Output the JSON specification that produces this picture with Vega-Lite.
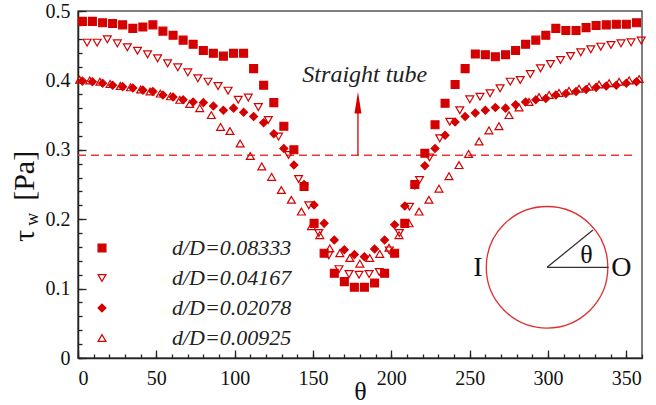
{
  "$schema": "https://vega.github.io/schema/vega-lite/v6.json",
  "width": 564,
  "height": 347,
  "autosize": "none",
  "padding": {"left": 78, "top": 11, "right": 14, "bottom": 47},
  "background": "white",
  "config": {
    "font": "Liberation Serif, Times New Roman, serif",
    "view": {"stroke": "#555", "strokeWidth": 1.5},
    "axis": {
      "grid": false,
      "labelFont": "Liberation Serif, Times New Roman, serif",
      "labelFontSize": 20,
      "labelColor": "#111",
      "titleFont": "Liberation Serif, Times New Roman, serif",
      "titleFontWeight": "normal",
      "titleColor": "#111",
      "domainColor": "#222",
      "domainWidth": 1.5,
      "tickColor": "#222",
      "tickWidth": 1.3
    },
    "legend": {"labelFont": "Liberation Serif, Times New Roman, serif"},
    "text": {"font": "Liberation Serif, Times New Roman, serif", "color": "#111"}
  },
  "datasets": {
    "curves": [
      {"series": "d/D=0.08333", "theta": 2.8, "tau": 0.485},
      {"series": "d/D=0.08333", "theta": 9.2, "tau": 0.485},
      {"series": "d/D=0.08333", "theta": 15.7, "tau": 0.483},
      {"series": "d/D=0.08333", "theta": 22.1, "tau": 0.482},
      {"series": "d/D=0.08333", "theta": 28.5, "tau": 0.48},
      {"series": "d/D=0.08333", "theta": 35.0, "tau": 0.475},
      {"series": "d/D=0.08333", "theta": 41.4, "tau": 0.477},
      {"series": "d/D=0.08333", "theta": 47.8, "tau": 0.48},
      {"series": "d/D=0.08333", "theta": 54.2, "tau": 0.471},
      {"series": "d/D=0.08333", "theta": 60.7, "tau": 0.465},
      {"series": "d/D=0.08333", "theta": 67.1, "tau": 0.458},
      {"series": "d/D=0.08333", "theta": 73.5, "tau": 0.452},
      {"series": "d/D=0.08333", "theta": 80.0, "tau": 0.443},
      {"series": "d/D=0.08333", "theta": 86.4, "tau": 0.439},
      {"series": "d/D=0.08333", "theta": 92.8, "tau": 0.435},
      {"series": "d/D=0.08333", "theta": 99.3, "tau": 0.439},
      {"series": "d/D=0.08333", "theta": 105.7, "tau": 0.439},
      {"series": "d/D=0.08333", "theta": 112.1, "tau": 0.417},
      {"series": "d/D=0.08333", "theta": 118.5, "tau": 0.393},
      {"series": "d/D=0.08333", "theta": 125.0, "tau": 0.368},
      {"series": "d/D=0.08333", "theta": 131.4, "tau": 0.334},
      {"series": "d/D=0.08333", "theta": 137.8, "tau": 0.3},
      {"series": "d/D=0.08333", "theta": 144.3, "tau": 0.247},
      {"series": "d/D=0.08333", "theta": 150.7, "tau": 0.194},
      {"series": "d/D=0.08333", "theta": 157.1, "tau": 0.151},
      {"series": "d/D=0.08333", "theta": 163.6, "tau": 0.122},
      {"series": "d/D=0.08333", "theta": 170.0, "tau": 0.11},
      {"series": "d/D=0.08333", "theta": 176.4, "tau": 0.102},
      {"series": "d/D=0.08333", "theta": 182.8, "tau": 0.102},
      {"series": "d/D=0.08333", "theta": 189.3, "tau": 0.108},
      {"series": "d/D=0.08333", "theta": 195.7, "tau": 0.122},
      {"series": "d/D=0.08333", "theta": 202.1, "tau": 0.151},
      {"series": "d/D=0.08333", "theta": 208.6, "tau": 0.194},
      {"series": "d/D=0.08333", "theta": 215.0, "tau": 0.25},
      {"series": "d/D=0.08333", "theta": 221.4, "tau": 0.295},
      {"series": "d/D=0.08333", "theta": 227.9, "tau": 0.336},
      {"series": "d/D=0.08333", "theta": 234.3, "tau": 0.367},
      {"series": "d/D=0.08333", "theta": 240.7, "tau": 0.394},
      {"series": "d/D=0.08333", "theta": 247.1, "tau": 0.417},
      {"series": "d/D=0.08333", "theta": 253.6, "tau": 0.438},
      {"series": "d/D=0.08333", "theta": 260.0, "tau": 0.437},
      {"series": "d/D=0.08333", "theta": 266.4, "tau": 0.434},
      {"series": "d/D=0.08333", "theta": 272.9, "tau": 0.437},
      {"series": "d/D=0.08333", "theta": 279.3, "tau": 0.443},
      {"series": "d/D=0.08333", "theta": 285.7, "tau": 0.452},
      {"series": "d/D=0.08333", "theta": 292.2, "tau": 0.458},
      {"series": "d/D=0.08333", "theta": 298.6, "tau": 0.465},
      {"series": "d/D=0.08333", "theta": 305.0, "tau": 0.475},
      {"series": "d/D=0.08333", "theta": 311.4, "tau": 0.472},
      {"series": "d/D=0.08333", "theta": 317.9, "tau": 0.472},
      {"series": "d/D=0.08333", "theta": 324.3, "tau": 0.476},
      {"series": "d/D=0.08333", "theta": 330.7, "tau": 0.479},
      {"series": "d/D=0.08333", "theta": 337.2, "tau": 0.48},
      {"series": "d/D=0.08333", "theta": 343.6, "tau": 0.481},
      {"series": "d/D=0.08333", "theta": 350.0, "tau": 0.481},
      {"series": "d/D=0.08333", "theta": 356.5, "tau": 0.483},

      {"series": "d/D=0.04167", "theta": 5.8, "tau": 0.4544},
      {"series": "d/D=0.04167", "theta": 12.2, "tau": 0.4544},
      {"series": "d/D=0.04167", "theta": 18.7, "tau": 0.4592},
      {"series": "d/D=0.04167", "theta": 25.1, "tau": 0.4534},
      {"series": "d/D=0.04167", "theta": 31.5, "tau": 0.4477},
      {"series": "d/D=0.04167", "theta": 38.0, "tau": 0.4428},
      {"series": "d/D=0.04167", "theta": 44.4, "tau": 0.4376},
      {"series": "d/D=0.04167", "theta": 50.8, "tau": 0.4318},
      {"series": "d/D=0.04167", "theta": 57.2, "tau": 0.4246},
      {"series": "d/D=0.04167", "theta": 63.7, "tau": 0.4188},
      {"series": "d/D=0.04167", "theta": 70.1, "tau": 0.4116},
      {"series": "d/D=0.04167", "theta": 76.5, "tau": 0.403},
      {"series": "d/D=0.04167", "theta": 83.0, "tau": 0.3982},
      {"series": "d/D=0.04167", "theta": 89.4, "tau": 0.3919},
      {"series": "d/D=0.04167", "theta": 95.8, "tau": 0.3852},
      {"series": "d/D=0.04167", "theta": 102.3, "tau": 0.3722},
      {"series": "d/D=0.04167", "theta": 108.7, "tau": 0.3753},
      {"series": "d/D=0.04167", "theta": 115.1, "tau": 0.3616},
      {"series": "d/D=0.04167", "theta": 121.5, "tau": 0.343},
      {"series": "d/D=0.04167", "theta": 128.0, "tau": 0.319},
      {"series": "d/D=0.04167", "theta": 134.4, "tau": 0.2925},
      {"series": "d/D=0.04167", "theta": 140.8, "tau": 0.258},
      {"series": "d/D=0.04167", "theta": 147.3, "tau": 0.22},
      {"series": "d/D=0.04167", "theta": 153.7, "tau": 0.18},
      {"series": "d/D=0.04167", "theta": 160.1, "tau": 0.148},
      {"series": "d/D=0.04167", "theta": 166.6, "tau": 0.128},
      {"series": "d/D=0.04167", "theta": 173.0, "tau": 0.121},
      {"series": "d/D=0.04167", "theta": 179.4, "tau": 0.12},
      {"series": "d/D=0.04167", "theta": 185.8, "tau": 0.121},
      {"series": "d/D=0.04167", "theta": 192.3, "tau": 0.124},
      {"series": "d/D=0.04167", "theta": 198.7, "tau": 0.155},
      {"series": "d/D=0.04167", "theta": 205.1, "tau": 0.18},
      {"series": "d/D=0.04167", "theta": 211.6, "tau": 0.218},
      {"series": "d/D=0.04167", "theta": 218.0, "tau": 0.2565},
      {"series": "d/D=0.04167", "theta": 224.4, "tau": 0.289},
      {"series": "d/D=0.04167", "theta": 230.9, "tau": 0.3166},
      {"series": "d/D=0.04167", "theta": 237.3, "tau": 0.3405},
      {"series": "d/D=0.04167", "theta": 243.7, "tau": 0.357},
      {"series": "d/D=0.04167", "theta": 250.1, "tau": 0.3727},
      {"series": "d/D=0.04167", "theta": 256.6, "tau": 0.3765},
      {"series": "d/D=0.04167", "theta": 263.0, "tau": 0.3814},
      {"series": "d/D=0.04167", "theta": 269.4, "tau": 0.3886},
      {"series": "d/D=0.04167", "theta": 275.9, "tau": 0.3982},
      {"series": "d/D=0.04167", "theta": 282.3, "tau": 0.4006},
      {"series": "d/D=0.04167", "theta": 288.7, "tau": 0.4092},
      {"series": "d/D=0.04167", "theta": 295.2, "tau": 0.4174},
      {"series": "d/D=0.04167", "theta": 301.6, "tau": 0.4236},
      {"series": "d/D=0.04167", "theta": 308.0, "tau": 0.4294},
      {"series": "d/D=0.04167", "theta": 314.4, "tau": 0.4352},
      {"series": "d/D=0.04167", "theta": 320.9, "tau": 0.4405},
      {"series": "d/D=0.04167", "theta": 327.3, "tau": 0.4448},
      {"series": "d/D=0.04167", "theta": 333.7, "tau": 0.4486},
      {"series": "d/D=0.04167", "theta": 340.2, "tau": 0.451},
      {"series": "d/D=0.04167", "theta": 346.6, "tau": 0.4534},
      {"series": "d/D=0.04167", "theta": 353.0, "tau": 0.4548},
      {"series": "d/D=0.04167", "theta": 359.5, "tau": 0.4573},

      {"series": "d/D=0.02078", "theta": 2.8, "tau": 0.399},
      {"series": "d/D=0.02078", "theta": 9.2, "tau": 0.398},
      {"series": "d/D=0.02078", "theta": 15.7, "tau": 0.396},
      {"series": "d/D=0.02078", "theta": 22.1, "tau": 0.393},
      {"series": "d/D=0.02078", "theta": 28.5, "tau": 0.391},
      {"series": "d/D=0.02078", "theta": 35.0, "tau": 0.389},
      {"series": "d/D=0.02078", "theta": 41.4, "tau": 0.386},
      {"series": "d/D=0.02078", "theta": 47.8, "tau": 0.384},
      {"series": "d/D=0.02078", "theta": 54.2, "tau": 0.379},
      {"series": "d/D=0.02078", "theta": 60.7, "tau": 0.376},
      {"series": "d/D=0.02078", "theta": 67.1, "tau": 0.372},
      {"series": "d/D=0.02078", "theta": 73.5, "tau": 0.369},
      {"series": "d/D=0.02078", "theta": 80.0, "tau": 0.368},
      {"series": "d/D=0.02078", "theta": 86.4, "tau": 0.363},
      {"series": "d/D=0.02078", "theta": 92.8, "tau": 0.357},
      {"series": "d/D=0.02078", "theta": 99.3, "tau": 0.36},
      {"series": "d/D=0.02078", "theta": 105.7, "tau": 0.354},
      {"series": "d/D=0.02078", "theta": 112.1, "tau": 0.348},
      {"series": "d/D=0.02078", "theta": 118.5, "tau": 0.339},
      {"series": "d/D=0.02078", "theta": 125.0, "tau": 0.323},
      {"series": "d/D=0.02078", "theta": 131.4, "tau": 0.302},
      {"series": "d/D=0.02078", "theta": 137.8, "tau": 0.278},
      {"series": "d/D=0.02078", "theta": 144.3, "tau": 0.25},
      {"series": "d/D=0.02078", "theta": 150.7, "tau": 0.2205},
      {"series": "d/D=0.02078", "theta": 157.1, "tau": 0.194},
      {"series": "d/D=0.02078", "theta": 163.6, "tau": 0.17},
      {"series": "d/D=0.02078", "theta": 170.0, "tau": 0.156},
      {"series": "d/D=0.02078", "theta": 176.4, "tau": 0.149},
      {"series": "d/D=0.02078", "theta": 182.8, "tau": 0.146},
      {"series": "d/D=0.02078", "theta": 189.3, "tau": 0.157},
      {"series": "d/D=0.02078", "theta": 195.7, "tau": 0.17},
      {"series": "d/D=0.02078", "theta": 202.1, "tau": 0.192},
      {"series": "d/D=0.02078", "theta": 208.6, "tau": 0.219},
      {"series": "d/D=0.02078", "theta": 215.0, "tau": 0.249},
      {"series": "d/D=0.02078", "theta": 221.4, "tau": 0.277},
      {"series": "d/D=0.02078", "theta": 227.9, "tau": 0.302},
      {"series": "d/D=0.02078", "theta": 234.3, "tau": 0.321},
      {"series": "d/D=0.02078", "theta": 240.7, "tau": 0.34},
      {"series": "d/D=0.02078", "theta": 247.1, "tau": 0.348},
      {"series": "d/D=0.02078", "theta": 253.6, "tau": 0.353},
      {"series": "d/D=0.02078", "theta": 260.0, "tau": 0.357},
      {"series": "d/D=0.02078", "theta": 266.4, "tau": 0.361},
      {"series": "d/D=0.02078", "theta": 272.9, "tau": 0.36},
      {"series": "d/D=0.02078", "theta": 279.3, "tau": 0.365},
      {"series": "d/D=0.02078", "theta": 285.7, "tau": 0.369},
      {"series": "d/D=0.02078", "theta": 292.2, "tau": 0.372},
      {"series": "d/D=0.02078", "theta": 298.6, "tau": 0.374},
      {"series": "d/D=0.02078", "theta": 305.0, "tau": 0.379},
      {"series": "d/D=0.02078", "theta": 311.4, "tau": 0.381},
      {"series": "d/D=0.02078", "theta": 317.9, "tau": 0.384},
      {"series": "d/D=0.02078", "theta": 324.3, "tau": 0.387},
      {"series": "d/D=0.02078", "theta": 330.7, "tau": 0.39},
      {"series": "d/D=0.02078", "theta": 337.2, "tau": 0.392},
      {"series": "d/D=0.02078", "theta": 343.6, "tau": 0.393},
      {"series": "d/D=0.02078", "theta": 350.0, "tau": 0.396},
      {"series": "d/D=0.02078", "theta": 356.5, "tau": 0.398},

      {"series": "d/D=0.00925", "theta": 1.0, "tau": 0.401},
      {"series": "d/D=0.00925", "theta": 7.5, "tau": 0.4},
      {"series": "d/D=0.00925", "theta": 14.0, "tau": 0.398},
      {"series": "d/D=0.00925", "theta": 20.5, "tau": 0.395},
      {"series": "d/D=0.00925", "theta": 27.0, "tau": 0.392},
      {"series": "d/D=0.00925", "theta": 33.5, "tau": 0.39},
      {"series": "d/D=0.00925", "theta": 40.0, "tau": 0.387},
      {"series": "d/D=0.00925", "theta": 46.0, "tau": 0.384},
      {"series": "d/D=0.00925", "theta": 52.5, "tau": 0.381},
      {"series": "d/D=0.00925", "theta": 59.0, "tau": 0.377},
      {"series": "d/D=0.00925", "theta": 65.0, "tau": 0.372},
      {"series": "d/D=0.00925", "theta": 71.3, "tau": 0.366},
      {"series": "d/D=0.00925", "theta": 77.7, "tau": 0.36},
      {"series": "d/D=0.00925", "theta": 85.1, "tau": 0.35},
      {"series": "d/D=0.00925", "theta": 91.0, "tau": 0.333},
      {"series": "d/D=0.00925", "theta": 97.0, "tau": 0.327},
      {"series": "d/D=0.00925", "theta": 103.5, "tau": 0.309},
      {"series": "d/D=0.00925", "theta": 110.0, "tau": 0.291},
      {"series": "d/D=0.00925", "theta": 117.3, "tau": 0.276},
      {"series": "d/D=0.00925", "theta": 123.6, "tau": 0.261},
      {"series": "d/D=0.00925", "theta": 129.8, "tau": 0.242},
      {"series": "d/D=0.00925", "theta": 136.2, "tau": 0.228},
      {"series": "d/D=0.00925", "theta": 142.6, "tau": 0.211},
      {"series": "d/D=0.00925", "theta": 149.0, "tau": 0.19},
      {"series": "d/D=0.00925", "theta": 154.3, "tau": 0.177},
      {"series": "d/D=0.00925", "theta": 160.7, "tau": 0.158},
      {"series": "d/D=0.00925", "theta": 167.1, "tau": 0.151},
      {"series": "d/D=0.00925", "theta": 173.5, "tau": 0.144},
      {"series": "d/D=0.00925", "theta": 179.9, "tau": 0.136},
      {"series": "d/D=0.00925", "theta": 186.2, "tau": 0.144},
      {"series": "d/D=0.00925", "theta": 192.6, "tau": 0.15},
      {"series": "d/D=0.00925", "theta": 198.5, "tau": 0.159},
      {"series": "d/D=0.00925", "theta": 204.9, "tau": 0.177},
      {"series": "d/D=0.00925", "theta": 211.3, "tau": 0.194},
      {"series": "d/D=0.00925", "theta": 217.7, "tau": 0.211},
      {"series": "d/D=0.00925", "theta": 224.0, "tau": 0.228},
      {"series": "d/D=0.00925", "theta": 230.4, "tau": 0.244},
      {"series": "d/D=0.00925", "theta": 236.8, "tau": 0.262},
      {"series": "d/D=0.00925", "theta": 243.2, "tau": 0.278},
      {"series": "d/D=0.00925", "theta": 249.3, "tau": 0.294},
      {"series": "d/D=0.00925", "theta": 256.0, "tau": 0.312},
      {"series": "d/D=0.00925", "theta": 262.3, "tau": 0.328},
      {"series": "d/D=0.00925", "theta": 268.7, "tau": 0.334},
      {"series": "d/D=0.00925", "theta": 275.1, "tau": 0.35},
      {"series": "d/D=0.00925", "theta": 281.5, "tau": 0.361},
      {"series": "d/D=0.00925", "theta": 287.9, "tau": 0.369},
      {"series": "d/D=0.00925", "theta": 294.3, "tau": 0.376},
      {"series": "d/D=0.00925", "theta": 300.7, "tau": 0.379},
      {"series": "d/D=0.00925", "theta": 307.0, "tau": 0.382},
      {"series": "d/D=0.00925", "theta": 313.4, "tau": 0.385},
      {"series": "d/D=0.00925", "theta": 319.8, "tau": 0.388},
      {"series": "d/D=0.00925", "theta": 326.2, "tau": 0.391},
      {"series": "d/D=0.00925", "theta": 332.6, "tau": 0.394},
      {"series": "d/D=0.00925", "theta": 339.0, "tau": 0.396},
      {"series": "d/D=0.00925", "theta": 345.4, "tau": 0.398},
      {"series": "d/D=0.00925", "theta": 351.8, "tau": 0.4},
      {"series": "d/D=0.00925", "theta": 358.2, "tau": 0.402}
    ]
  },
  "layer": [
    {
      "description": "Straight-tube reference level, dashed; its axes draw the short inward minor ticks",
      "data": {"values": [{"theta": 0, "tau": 0.292}, {"theta": 355, "tau": 0.292}]},
      "mark": {"type": "line", "stroke": "#e53935", "strokeWidth": 1.5, "strokeDash": [8, 5]},
      "encoding": {
        "x": {
          "field": "theta", "type": "quantitative",
          "scale": {"domain": [0, 360], "nice": false, "zero": false},
          "axis": {"orient": "bottom", "offset": -4, "tickSize": 4, "values": [0,10,20,30,40,50,60,70,80,90,100,110,120,130,140,150,160,170,180,190,200,210,220,230,240,250,260,270,280,290,300,310,320,330,340,350,360], "labels": false, "domain": false, "title": null}
        },
        "y": {
          "field": "tau", "type": "quantitative",
          "scale": {"domain": [0, 0.5], "nice": false},
          "axis": {"orient": "left", "offset": -4, "tickSize": 4, "values": [0,0.02,0.04,0.06,0.08,0.1,0.12,0.14,0.16,0.18,0.2,0.22,0.24,0.26,0.28,0.3,0.32,0.34,0.36,0.38,0.4,0.42,0.44,0.46,0.48,0.5], "labels": false, "domain": false, "title": null}
        }
      }
    },
    {
      "data": {"name": "curves"},
      "mark": {"type": "point", "filled": false, "strokeWidth": 1.2, "opacity": 1, "size": 62},
      "encoding": {
        "x": {
          "field": "theta", "type": "quantitative",
          "scale": {"domain": [0, 360], "nice": false, "zero": false},
          "axis": {"orient": "bottom", "values": [0,50,100,150,200,250,300,350], "ticks": false, "labelPadding": 10, "labelFont": "Liberation Serif, Times New Roman, serif", "title": "θ", "titleFont": "Liberation Serif, Times New Roman, serif", "titleFontSize": 26, "titlePadding": -10}
        },
        "y": {
          "field": "tau", "type": "quantitative",
          "scale": {"domain": [0, 0.5], "nice": false},
          "axis": {"orient": "left", "values": [0,0.1,0.2,0.3,0.4,0.5], "format": ".1~f", "ticks": false, "labelPadding": 8, "labelFont": "Liberation Serif, Times New Roman, serif", "title": null}
        },
        "shape": {
          "field": "series", "type": "nominal",
          "scale": {"domain": ["d/D=0.08333", "d/D=0.04167", "d/D=0.02078", "d/D=0.00925"], "range": ["square", "triangle-down", "diamond", "triangle-up"]},
          "legend": {"title": null, "orient": "none", "legendX": 13, "legendY": 226, "padding": 0, "labelFont": "Liberation Serif, Times New Roman, serif", "labelFontStyle": "italic", "labelFontSize": 22, "labelColor": "#222", "labelOffset": 59, "labelLimit": 300, "rowPadding": 8, "symbolSize": 62, "symbolStrokeWidth": 1.2,
            "encode": {"symbols": {"update": {"stroke": {"value": "#d40000"}, "strokeWidth": {"value": 1.2}}}}}
        },
        "fill": {
          "field": "series", "type": "nominal",
          "scale": {"domain": ["d/D=0.08333", "d/D=0.04167", "d/D=0.02078", "d/D=0.00925"], "range": ["#d40000", "transparent", "#d40000", "transparent"]},
          "legend": {"title": null, "orient": "none", "legendX": 13, "legendY": 226, "padding": 0, "labelFont": "Liberation Serif, Times New Roman, serif", "labelFontStyle": "italic", "labelFontSize": 22, "labelColor": "#222", "labelOffset": 59, "labelLimit": 300, "rowPadding": 8, "symbolSize": 62, "symbolStrokeWidth": 1.2,
            "encode": {"symbols": {"update": {"stroke": {"value": "#d40000"}, "strokeWidth": {"value": 1.2}}}}}
        },
        "stroke": {"value": "#d40000"}
      }
    },
    {
      "description": "Arrow shaft pointing at the straight-tube level; its axes draw the longer inward major ticks",
      "data": {"values": [{}]},
      "mark": {"type": "rule", "color": "#d40000", "strokeWidth": 1.3},
      "encoding": {
        "x": {"datum": 178.7, "type": "quantitative",
          "axis": {"orient": "bottom", "offset": -8, "tickSize": 8, "values": [0,50,100,150,200,250,300,350], "labels": false, "domain": false, "title": null}},
        "y": {"datum": 0.292, "type": "quantitative",
          "axis": {"orient": "left", "offset": -8, "tickSize": 8, "values": [0,0.1,0.2,0.3,0.4,0.5], "labels": false, "domain": false, "title": null}},
        "y2": {"datum": 0.356}
      }
    },
    {
      "description": "Arrow head",
      "data": {"values": [{}]},
      "mark": {"type": "point", "shape": "M0,-1L0.32,1L-0.32,1Z", "filled": true, "color": "#d40000", "opacity": 1, "size": 470},
      "encoding": {
        "x": {"datum": 178.7, "type": "quantitative", "axis": null},
        "y": {"datum": 0.368, "type": "quantitative", "axis": null}
      }
    },
    {
      "data": {"values": [{}]},
      "mark": {"type": "text", "text": "Straight tube", "font": "Liberation Serif, Times New Roman, serif", "fontStyle": "italic", "fontSize": 24, "align": "center", "baseline": "alphabetic", "color": "#222"},
      "encoding": {
        "x": {"datum": 183, "type": "quantitative", "axis": null},
        "y": {"datum": 0.398, "type": "quantitative", "axis": null}
      }
    },
    {
      "description": "Tube cross-section sketch",
      "data": {"values": [{}]},
      "mark": {"type": "point", "shape": "circle", "filled": false, "stroke": "#e03030", "strokeWidth": 1.3, "opacity": 1, "size": 14780},
      "encoding": {
        "x": {"datum": 299.4, "type": "quantitative", "axis": null},
        "y": {"datum": 0.1307, "type": "quantitative", "axis": null}
      }
    },
    {
      "data": {"values": [{}]},
      "mark": {"type": "rule", "color": "#333", "strokeWidth": 1.3},
      "encoding": {
        "x": {"datum": 299.4, "type": "quantitative", "axis": null},
        "x2": {"datum": 338.7},
        "y": {"datum": 0.1307, "type": "quantitative", "axis": null}
      }
    },
    {
      "data": {"values": [{}]},
      "mark": {"type": "rule", "color": "#333", "strokeWidth": 1.3},
      "encoding": {
        "x": {"datum": 299.4, "type": "quantitative", "axis": null},
        "x2": {"datum": 328.7},
        "y": {"datum": 0.1307, "type": "quantitative", "axis": null},
        "y2": {"datum": 0.1844}
      }
    },
    {
      "data": {"values": [{}]},
      "mark": {"type": "text", "text": "θ", "font": "Liberation Serif, Times New Roman, serif", "fontSize": 26, "align": "center", "baseline": "middle", "color": "#111"},
      "encoding": {
        "x": {"datum": 324.5, "type": "quantitative", "axis": null},
        "y": {"datum": 0.148, "type": "quantitative", "axis": null}
      }
    },
    {
      "data": {"values": [{}]},
      "mark": {"type": "text", "text": "I", "font": "Liberation Serif, Times New Roman, serif", "fontSize": 28, "align": "center", "baseline": "middle", "color": "#111"},
      "encoding": {
        "x": {"datum": 255.3, "type": "quantitative", "axis": null},
        "y": {"datum": 0.129, "type": "quantitative", "axis": null}
      }
    },
    {
      "data": {"values": [{}]},
      "mark": {"type": "text", "text": "O", "font": "Liberation Serif, Times New Roman, serif", "fontSize": 28, "align": "center", "baseline": "middle", "color": "#111"},
      "encoding": {
        "x": {"datum": 346.8, "type": "quantitative", "axis": null},
        "y": {"datum": 0.129, "type": "quantitative", "axis": null}
      }
    },
    {
      "description": "Y-axis title: tau with subscript w, then the unit",
      "data": {"values": [{}]},
      "mark": {"type": "text", "text": "τ", "font": "Liberation Serif, Times New Roman, serif", "fontSize": 30, "angle": 270, "align": "center", "baseline": "middle", "color": "#111"},
      "encoding": {
        "x": {"datum": -34, "type": "quantitative", "axis": null},
        "y": {"datum": 0.1758, "type": "quantitative", "axis": null}
      }
    },
    {
      "data": {"values": [{}]},
      "mark": {"type": "text", "text": "w", "font": "Liberation Serif, Times New Roman, serif", "fontSize": 18, "angle": 270, "align": "center", "baseline": "middle", "color": "#111"},
      "encoding": {
        "x": {"datum": -29, "type": "quantitative", "axis": null},
        "y": {"datum": 0.2, "type": "quantitative", "axis": null}
      }
    },
    {
      "data": {"values": [{}]},
      "mark": {"type": "text", "text": "[Pa]", "font": "Liberation Serif, Times New Roman, serif", "fontSize": 30, "angle": 270, "align": "center", "baseline": "middle", "color": "#111"},
      "encoding": {
        "x": {"datum": -34, "type": "quantitative", "axis": null},
        "y": {"datum": 0.2625, "type": "quantitative", "axis": null}
      }
    }
  ],
  "resolve": {"axis": {"x": "independent", "y": "independent"}}
}
